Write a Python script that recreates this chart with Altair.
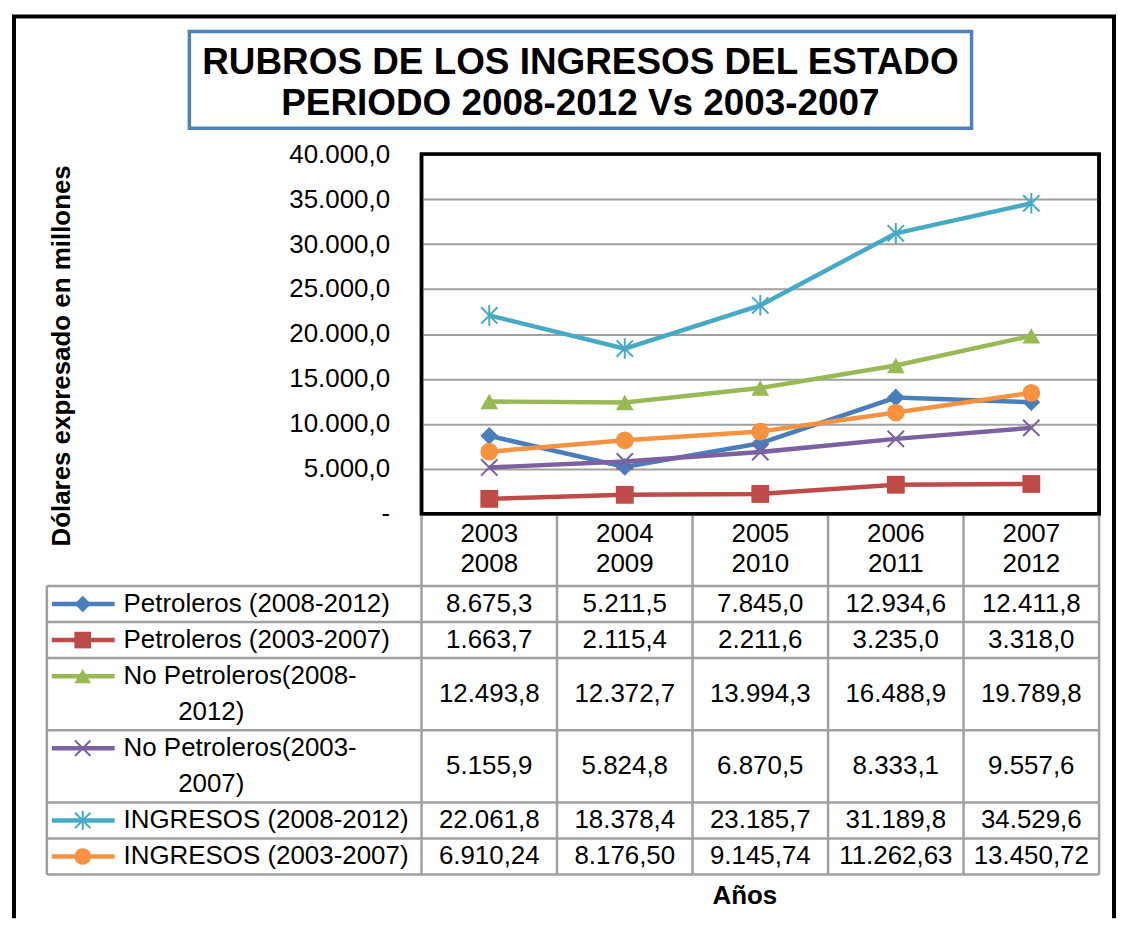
import altair as alt
import pandas as pd

# ---------------- data ----------------
series = ["Petroleros (2008-2012)", "Petroleros (2003-2007)",
          "No Petroleros(2008-2012)", "No Petroleros(2003-2007)",
          "INGRESOS (2008-2012)", "INGRESOS (2003-2007)"]
label_lines = [["Petroleros (2008-2012)"], ["Petroleros (2003-2007)"],
               ["No Petroleros(2008-", "2012)"], ["No Petroleros(2003-", "2007)"],
               ["INGRESOS (2008-2012)"], ["INGRESOS (2003-2007)"]]
years_top = ["2003", "2004", "2005", "2006", "2007"]
years_bottom = ["2008", "2009", "2010", "2011", "2012"]

petroleros_new = [8675.3, 5211.5, 7845.0, 12934.6, 12411.8]
petroleros_old = [1663.7, 2115.4, 2211.6, 3235.0, 3318.0]
no_petroleros_new = [12493.8, 12372.7, 13994.3, 16488.9, 19789.8]
no_petroleros_old = [5155.9, 5824.8, 6870.5, 8333.1, 9557.6]
ingresos_new = [22061.8, 18378.4, 23185.7, 31189.8, 34529.6]
ingresos_old = [6910.24, 8176.50, 9145.74, 11262.63, 13450.72]
values = [petroleros_new, petroleros_old, no_petroleros_new,
          no_petroleros_old, ingresos_new, ingresos_old]
decimals = [1, 1, 1, 1, 1, 2]
y_ticks = list(range(0, 40001, 5000))

# ---------------- styles ----------------
colors = ["#4A7EBB", "#BE4B48", "#98B954", "#7D60A0", "#46AAC5", "#F69240"]
X_PATH = "M-1,-1L1,1M-1,1L1,-1"
STAR_PATH = "M-1,-1L1,1M-1,1L1,-1M0,-1.25L0,1.25"
shapes = ["diamond", "square", "triangle-up", X_PATH, STAR_PATH, "circle"]
filled = [True, True, True, False, False, True]
FONT = "Liberation Sans"
GRID = "#A0A0A0"

W, H = 680, 361          # plot area
SLOT = 36.2              # table line slot height (px)
LEG_LEFT, KEY_X1, KEY_X2, KEY_MID = -376, -371, -308, -340
TXT_X, WRAP_X = -299, -211


def fmt(v, d):
    s = f"{v:,.{d}f}"
    return s.replace(",", "_").replace(".", ",").replace("_", ".")


# ---------------- frames ----------------
pts = pd.DataFrame([
    {"series": s, "x": i + 0.5, "v": v, "filled": f}
    for s, vals, f in zip(series, values, filled)
    for i, v in enumerate(vals)
])

header_slots = 2
row_tops, top = [], header_slots
for lines in label_lines:
    row_tops.append(top)
    top += len(lines)
n_slots = top

cells = pd.DataFrame([
    {"x": i + 0.5, "y": rt + len(lines) / 2, "t": fmt(v, d)}
    for rt, lines, vals, d in zip(row_tops, label_lines, values, decimals)
    for i, v in enumerate(vals)
])
header = pd.DataFrame(
    [{"x": i + 0.5, "y": 0.55, "t": a} for i, a in enumerate(years_top)] +
    [{"x": i + 0.5, "y": 1.4, "t": b} for i, b in enumerate(years_bottom)])
leg_first = pd.DataFrame([{"y": rt + 0.5, "t": lines[0]}
                          for rt, lines in zip(row_tops, label_lines)])
leg_cont = pd.DataFrame([{"y": rt + k + 0.5, "t": ln}
                         for rt, lines in zip(row_tops, label_lines)
                         for k, ln in enumerate(lines) if k > 0])
keys = pd.DataFrame([{"series": s, "y": rt + 0.5, "filled": f}
                     for s, rt, f in zip(series, row_tops, filled)])
vlines = pd.DataFrame({"x": list(range(6)), "y": [0] * 6, "y2": [n_slots] * 6})
leftline = pd.DataFrame({"y": [header_slots], "y2": [n_slots]})
hlines = pd.DataFrame({"y": [header_slots] + [rt + len(l) for rt, l in zip(row_tops, label_lines)]})
dummy = pd.DataFrame({"a": [0]})

# ---------------- scales / axes ----------------
XS = alt.Scale(domain=[0, 5], nice=False, zero=False)
YS = alt.Scale(domain=[0, 40000], nice=False)
TS = alt.Scale(domain=[0, n_slots], range=[H, H + n_slots * SLOT], nice=False, zero=False)
CS = alt.Scale(domain=series, range=colors)
SS = alt.Scale(domain=series, range=shapes)

X_AX = alt.Axis(title="Años", labels=False, ticks=False, domain=False, grid=False,
                titleFont=FONT, titleFontSize=26, titleFontWeight="bold", titleColor="black",
                titleX=324, titleY=383, titleBaseline="middle", titleAlign="center")
Y_AX = alt.Axis(values=y_ticks,
                labelExpr="datum.value == 0 ? '-' : replace(replace(format(datum.value, ',.1f'), '.', ','), ',', '.')",
                labelFont=FONT, labelFontSize=26, labelColor="black", labelPadding=32,
                ticks=False, domain=False, grid=True, gridColor=GRID, gridWidth=2,
                title="Dólares expresado en millones", titleFont=FONT, titleFontSize=26,
                titleFontWeight="bold", titleColor="black", titleX=-361, titleY=202,
                titleAngle=270, titleAlign="center", titleBaseline="middle")

x_enc = alt.X("x:Q", scale=XS, axis=X_AX)
y_enc = alt.Y("v:Q", scale=YS, axis=Y_AX)
col_enc = alt.Color("series:N", scale=CS, legend=None)
shp_enc = alt.Shape("series:N", scale=SS, legend=None)
ty = alt.Y("y:Q", scale=TS, axis=None)

# ---------------- plot layers ----------------
lines = alt.Chart(pts).mark_line(strokeWidth=4.5).encode(x=x_enc, y=y_enc, color=col_enc)
pf = alt.Chart(pts).transform_filter("datum.filled").mark_point(
    filled=True, size=320, opacity=1).encode(x=x_enc, y=y_enc, color=col_enc, shape=shp_enc)
ps = alt.Chart(pts).transform_filter("!datum.filled").mark_point(
    filled=False, size=270, strokeWidth=2, opacity=1).encode(x=x_enc, y=y_enc, color=col_enc, shape=shp_enc)
plot_layer = alt.layer(lines, pf, ps)

# ---------------- table layers ----------------
t_v = alt.Chart(vlines).mark_rule(color=GRID, strokeWidth=2.5).encode(x=x_enc, y=ty, y2="y2:Q")
t_l = alt.Chart(leftline).mark_rule(color=GRID, strokeWidth=2.5).encode(
    x=alt.value(LEG_LEFT), y=ty, y2="y2:Q")
t_h = alt.Chart(hlines).mark_rule(color=GRID, strokeWidth=2.5).encode(
    x=alt.value(LEG_LEFT), x2=alt.value(W), y=ty)
txt = dict(font=FONT, fontSize=26, color="black", baseline="middle")
t_head = alt.Chart(header).mark_text(align="center", **txt).encode(x=x_enc, y=ty, text="t:N")
t_cells = alt.Chart(cells).mark_text(align="center", **txt).encode(x=x_enc, y=ty, text="t:N")
t_lf = alt.Chart(leg_first).mark_text(align="left", **txt).encode(x=alt.value(TXT_X), y=ty, text="t:N")
t_lc = alt.Chart(leg_cont).mark_text(align="center", **txt).encode(x=alt.value(WRAP_X), y=ty, text="t:N")
k_line = alt.Chart(keys).mark_rule(strokeWidth=4.5).encode(
    x=alt.value(KEY_X1), x2=alt.value(KEY_X2), y=ty, color=col_enc)
k_pf = alt.Chart(keys).transform_filter("datum.filled").mark_point(
    filled=True, size=280, opacity=1).encode(x=alt.value(KEY_MID), y=ty, color=col_enc, shape=shp_enc)
k_ps = alt.Chart(keys).transform_filter("!datum.filled").mark_point(
    filled=False, size=240, strokeWidth=2, opacity=1).encode(x=alt.value(KEY_MID), y=ty, color=col_enc, shape=shp_enc)
table_layer = alt.layer(t_v, t_l, t_h, t_head, t_cells, t_lf, t_lc, k_line, k_pf, k_ps)

# ---------------- decorations ----------------
b_left = alt.Chart(dummy).mark_rule(color="black", strokeWidth=4).encode(
    x=alt.value(-409), y=alt.value(-138), y2=alt.value(767))
b_right = alt.Chart(dummy).mark_rule(color="black", strokeWidth=4).encode(
    x=alt.value(695), y=alt.value(-138), y2=alt.value(767))
b_top = alt.Chart(dummy).mark_rule(color="black", strokeWidth=4).encode(
    x=alt.value(-411), x2=alt.value(697), y=alt.value(-138))
title_box = alt.Chart(dummy).mark_rect(fill="white", stroke="#4F81BD", strokeWidth=3.5).encode(
    x=alt.value(-233), x2=alt.value(552), y=alt.value(-123), y2=alt.value(-26))
title_txt = alt.Chart(dummy).mark_text(
    font=FONT, fontSize=37, fontWeight="bold", color="black", align="center",
    baseline="middle", lineBreak="\n", lineHeight=41).encode(
    x=alt.value(159.5), y=alt.value(-91),
    text=alt.value("RUBROS DE LOS INGRESOS DEL ESTADO\nPERIODO 2008-2012 Vs 2003-2007"))
plot_border = alt.Chart(dummy).mark_rect(
    fillOpacity=0, fill="white", stroke="black", strokeWidth=3.5).encode(
    x=alt.value(0), x2=alt.value(W), y=alt.value(0), y2=alt.value(H))

chart = alt.layer(
    b_left, b_right, b_top, title_box, title_txt, table_layer, plot_border, plot_layer
).resolve_scale(y="independent").properties(
    width=W, height=H, padding={"left": 2, "top": 5, "right": 0, "bottom": 0},
    background="white"
).configure(font=FONT).configure_view(stroke="black", strokeWidth=3.5)

chart.save("out.html", embed_options={"renderer": "svg", "actions": False})
